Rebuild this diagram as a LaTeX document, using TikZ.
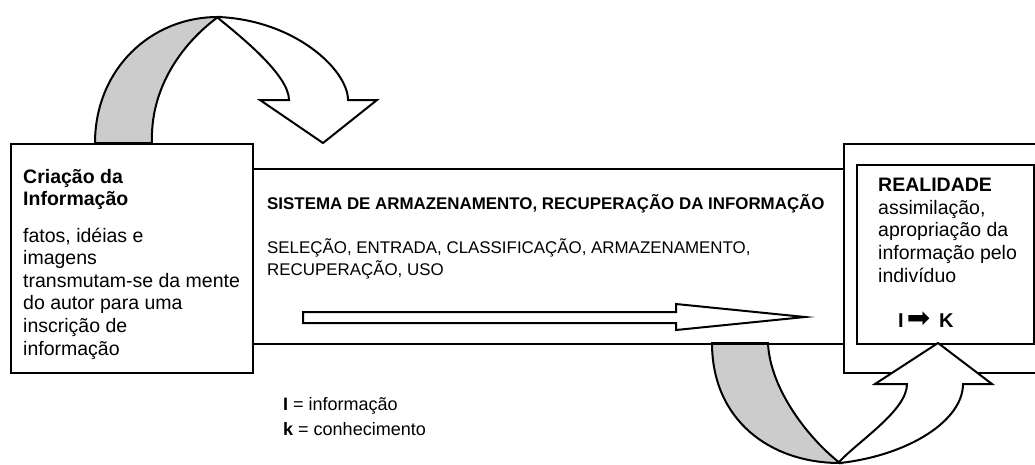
\documentclass[tikz,border=0pt]{standalone}
\usepackage{fontspec}
\setmainfont{Liberation Sans}
\newfontfamily\symbolfont{DejaVu Sans}
\usetikzlibrary{calc, positioning}

\tikzset{
  box/.style = {draw, line width=2.3pt, anchor=north west, inner sep=0pt},
  band/.style = {draw, line width=2pt, fill=gray!40},
  hollow/.style = {draw, line width=2pt, fill=white},
  txt/.style = {anchor=north west, align=left, inner sep=0pt,
    font=\fontsize{19.5}{22.6}\selectfont},
  systxt/.style = {txt, font=\fontsize{16.9}{22}\selectfont},
}

\begin{document}
\begin{tikzpicture}[x=1pt, y=-1pt]
  \path[use as bounding box, clip] (0,0) rectangle (1035,464);

  % grey backs of the two ribbons
  \draw[band] (95,143) .. controls (95,70) and (150,17) .. (218,17)
    .. controls (180,45) and (150,90) .. (152,143) -- cycle;
  \draw[band] (712,343) .. controls (712,420) and (770,463) .. (840,463)
    .. controls (810,440) and (770,390) .. (768,343) -- cycle;

  % boxes
  \node[box, minimum width=242pt, minimum height=229pt] (criacao) at (10,143) {};
  \node[box, minimum width=591pt, minimum height=175pt] (sistema) at (252,168) {};
  \node[box, minimum width=215pt, minimum height=229pt] (realidade) at (843,143) {};
  \node[box, minimum width=177pt, minimum height=179pt] (individuo) at (856,164) {};

  % white fronts with their heads
  \draw[hollow] (218,17) .. controls (295,20) and (348,70) .. (348,100)
    -- (377,100) -- (323,143) -- (260,100) -- (289,100)
    .. controls (289,75) and (240,36) .. (218,18) -- cycle;
  \draw[hollow] (840,463) .. controls (910,455) and (963,420) .. (963,384)
    -- (992,384) -- (938,343) -- (875,384) -- (907,384)
    .. controls (907,410) and (860,440) .. (840,461) -- cycle;

  % flow through the system
  \draw[hollow] (303,312) -- (676,312) -- (676,304) -- (805,317)
    -- (676,330) -- (676,323) -- (303,323) -- cycle;

  % texts
  \node[txt] (criacaotxt) at (23,169)
    {\textbf{Criação da}\\\textbf{Informação}\\[13.6pt]
     fatos, idéias e\\imagens\\transmutam-se da mente\\do autor para uma\\
     inscrição de\\informação};
  \node[systxt] (sistematxt) at (267,194)
    {\textbf{SISTEMA DE ARMAZENAMENTO, RECUPERAÇÃO DA INFORMAÇÃO}\\[22pt]
     SELEÇÃO, ENTRADA, CLASSIFICAÇÃO, ARMAZENAMENTO,\\RECUPERAÇÃO, USO};
  \node[txt] (realidadetxt) at (878,178)
    {\textbf{REALIDADE}\\assimilação,\\apropriação da\\informação pelo\\indivíduo};
  \node[anchor=base west, inner sep=0pt, font=\fontsize{20}{22}\selectfont] (ik) at (898,327)
    {\textbf{I}\hspace{3pt}{\symbolfont\fontsize{28}{28}\selectfont ➡}\hspace{9pt}\textbf{K}};
  \node[txt, font=\fontsize{18}{25}\selectfont] (legenda) at (283,397)
    {\textbf{I} = informação\\\textbf{k} = conhecimento};
\end{tikzpicture}
\end{document}
